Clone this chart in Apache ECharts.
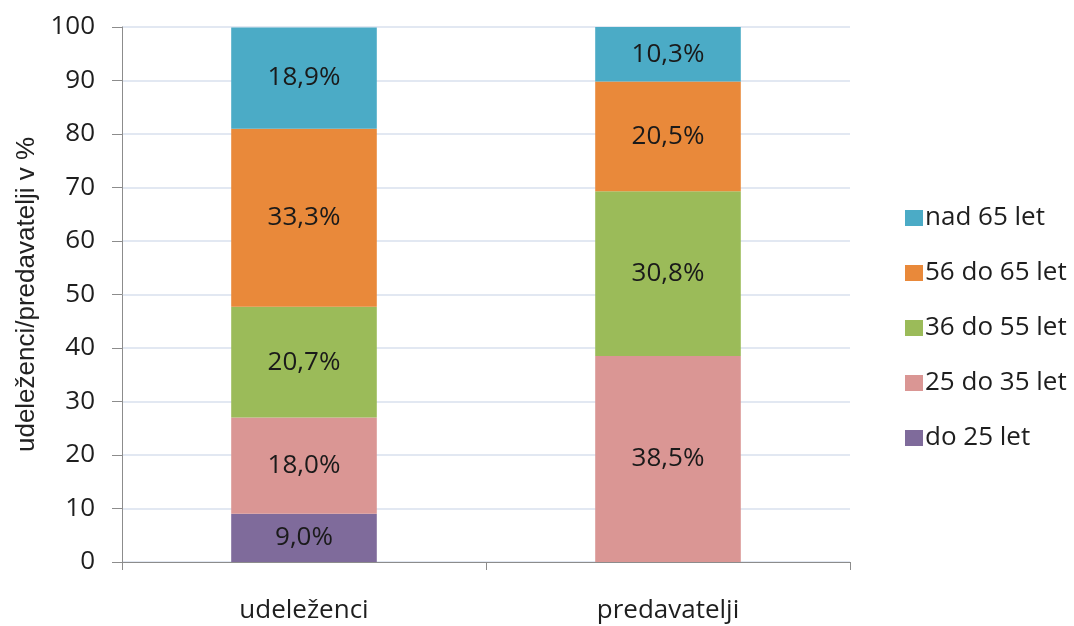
<!DOCTYPE html>
<html>
<head>
<meta charset="utf-8">
<script src="https://cdn.jsdelivr.net/npm/echarts@6/dist/echarts.min.js"></script>
<style>
  html, body { margin: 0; padding: 0; background: #fff; }
  #chart { width: 1074px; height: 626px; }
</style>
</head>
<body>
<div id="chart"></div>
<script>
// Age structure of participants and lecturers (percent)
const categories = ['udeleženci', 'predavatelji'];
const seriesNames = ['do 25 let', '25 do 35 let', '36 do 55 let', '56 do 65 let', 'nad 65 let'];
const do25 = [9.0, 0];
const od25do35 = [18.0, 38.5];
const od36do55 = [20.7, 30.8];
const od56do65 = [33.3, 20.5];
const nad65 = [18.9, 10.3];
const yTicks = [0, 10, 20, 30, 40, 50, 60, 70, 80, 90, 100];

const colors = ['#7f6b9b', '#da9694', '#9bbb59', '#e9893a', '#4babc6'];
const values = [do25, od25do35, od36do55, od56do65, nad65];
const FONT = '"Open Sans", "Noto Sans", sans-serif';

const chart = echarts.init(document.getElementById('chart'));
chart.setOption({
  animation: false,
  grid: { left: 122, right: 224, top: 27, bottom: 64 },
  legend: {
    orient: 'vertical',
    left: 900,
    top: 200,
    itemGap: 29,
    itemWidth: 18,
    itemHeight: 16,
    icon: 'rect',
    data: seriesNames.slice().reverse(),
    textStyle: { fontFamily: FONT, fontSize: 26, color: '#1e1e1e', padding: [0, 0, 0, -3] }
  },
  xAxis: {
    type: 'category',
    data: categories,
    axisLine: { lineStyle: { color: '#8c8c8c', width: 1 } },
    axisTick: { show: true, length: 8, lineStyle: { color: '#8c8c8c' } },
    axisLabel: { fontFamily: FONT, fontSize: 26, color: '#1e1e1e', margin: 36 }
  },
  yAxis: {
    type: 'value',
    min: 0,
    max: 100,
    interval: 10,
    name: 'udeleženci/predavatelji v %',
    nameLocation: 'middle',
    nameRotate: 90,
    nameGap: 82,
    nameTextStyle: { fontFamily: '"Liberation Sans", Arial, sans-serif', fontSize: 26, color: '#222' },
    axisLine: { show: true, lineStyle: { color: '#8c8c8c', width: 1 } },
    axisTick: { show: true, length: 10, lineStyle: { color: '#8c8c8c' } },
    axisLabel: {
      fontFamily: FONT, fontSize: 26, color: '#1e1e1e', margin: 27,
      formatter: v => (yTicks.includes(v) ? String(v) : '')
    },
    splitLine: { lineStyle: { color: '#d9e1ee', width: 1.5 } }
  },
  series: seriesNames.map((name, i) => ({
    name,
    type: 'bar',
    stack: 'total',
    barWidth: '40%',
    itemStyle: { color: colors[i] },
    data: values[i].map(v => (v > 0 ? v : null)),
    label: {
      show: true,
      position: 'inside',
      fontFamily: FONT,
      fontSize: 26,
      color: '#1a1a1a',
      formatter: p => p.value.toFixed(1).replace('.', ',') + '%'
    }
  }))
});
</script>
</body>
</html>
